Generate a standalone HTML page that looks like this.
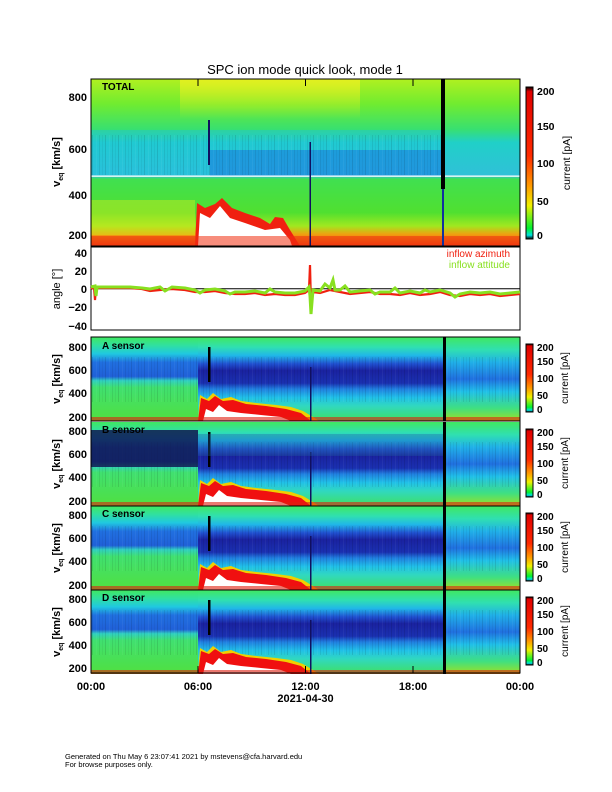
<!DOCTYPE html>
<html><head><meta charset="utf-8"><style>
html,body{margin:0;padding:0;background:#fff}
svg{display:block}
text{font-family:"Liberation Sans",sans-serif}
</style></head><body>
<svg width="612" height="792" viewBox="0 0 612 792" xmlns="http://www.w3.org/2000/svg">
<defs>
<linearGradient id="cb" x1="0" y1="0" x2="0" y2="1">
<stop offset="0" stop-color="#000"/><stop offset="0.03" stop-color="#e00000"/><stop offset="0.45" stop-color="#ff2a00"/><stop offset="0.65" stop-color="#ff9a00"/><stop offset="0.78" stop-color="#f0f000"/><stop offset="0.93" stop-color="#00f030"/><stop offset="0.975" stop-color="#00e0e0"/><stop offset="1" stop-color="#000"/>
</linearGradient>
<linearGradient id="topbase" x1="0" y1="0" x2="0" y2="1">
<stop offset="0" stop-color="#b0f020"/><stop offset="0.15" stop-color="#70ec30"/><stop offset="0.3" stop-color="#38e070"/><stop offset="0.38" stop-color="#20d0c8"/><stop offset="0.58" stop-color="#30c0d8"/><stop offset="0.6" stop-color="#40e050"/><stop offset="0.8" stop-color="#50e030"/><stop offset="0.88" stop-color="#a0e820"/><stop offset="0.93" stop-color="#f0a010"/><stop offset="1" stop-color="#f04010"/>
</linearGradient>
<linearGradient id="yel" x1="0" y1="0" x2="0" y2="1">
<stop offset="0" stop-color="#f0f020" stop-opacity="0.8"/><stop offset="1" stop-color="#f0f020" stop-opacity="0"/>
</linearGradient>
<linearGradient id="sL" x1="0" y1="0" x2="0" y2="1">
<stop offset="0" stop-color="#40e860"/><stop offset="0.1" stop-color="#30e0a0"/><stop offset="0.2" stop-color="#20c8e0"/><stop offset="0.3" stop-color="#2070e0"/><stop offset="0.47" stop-color="#2060d8"/><stop offset="0.52" stop-color="#30d0c0"/><stop offset="0.6" stop-color="#40e070"/><stop offset="1" stop-color="#50e040"/>
</linearGradient>
<linearGradient id="sM" x1="0" y1="0" x2="0" y2="1">
<stop offset="0" stop-color="#40e860"/><stop offset="0.12" stop-color="#30e0b0"/><stop offset="0.22" stop-color="#20b8e8"/><stop offset="0.32" stop-color="#2050d0"/><stop offset="0.4" stop-color="#1a22a0"/><stop offset="0.55" stop-color="#1a30b0"/><stop offset="0.62" stop-color="#2080e0"/><stop offset="0.72" stop-color="#20c0e8"/><stop offset="0.82" stop-color="#30d8c0"/><stop offset="1" stop-color="#40e060"/>
</linearGradient>
<linearGradient id="sR" x1="0" y1="0" x2="0" y2="1">
<stop offset="0" stop-color="#40e860"/><stop offset="0.15" stop-color="#30e0b0"/><stop offset="0.3" stop-color="#20b0e8"/><stop offset="0.5" stop-color="#2070e0"/><stop offset="0.65" stop-color="#20c0e8"/><stop offset="0.85" stop-color="#40e080"/><stop offset="1" stop-color="#a0e020"/>
</linearGradient>
<pattern id="noise" width="13" height="84" patternUnits="userSpaceOnUse">
<rect x="1" y="0" width="1" height="84" fill="#000" opacity="0.35"/>
<rect x="5" y="0" width="1" height="84" fill="#fff" opacity="0.15"/>
<rect x="8" y="0" width="1" height="84" fill="#000" opacity="0.25"/>
<rect x="11" y="0" width="1" height="84" fill="#000" opacity="0.15"/>
</pattern>
<g id="cbar">
<rect x="526" y="0" width="7" height="68" fill="url(#cb)" stroke="#000" stroke-width="1"/>
<g font-size="10" font-weight="bold" fill="#000">
<text x="537" y="7">200</text><text x="537" y="21">150</text><text x="537" y="38">100</text><text x="537" y="55">50</text><text x="537" y="69">0</text>
</g>
<text transform="translate(568,34) rotate(-90)" font-size="10" text-anchor="middle">current [pA]</text>
</g>
<g id="sensor">
<rect x="0" y="0" width="107" height="84" fill="url(#sL)"/>
<rect x="107" y="0" width="245" height="84" fill="url(#sM)"/>
<rect x="352" y="0" width="77" height="84" fill="url(#sR)"/>
<rect x="0" y="20" width="429" height="45" fill="url(#noise)" opacity="0.3"/>
<path d="M107,84 L109,58 L116,62 L122,56 L130,62 L140,60 L150,64 L165,66 L185,68 L200,70 L212,74 L222,80 L228,84 Z" fill="#f0d000"/>
<path d="M107,84 L110,61 L118,64 L124,59 L132,64 L142,63 L155,67 L175,69 L195,72 L210,76 L220,84 Z" fill="#f01010"/>
<path d="M112,84 L115,72 L122,75 L128,68 L136,74 L150,76 L170,78 L190,80 L200,84 Z" fill="#fff"/>
<rect x="0" y="80" width="429" height="4" fill="#e02010" opacity="0.6"/>
<rect x="352" y="0" width="3" height="84" fill="#000"/>
<rect x="219" y="30" width="1.5" height="54" fill="#101060"/>
<rect x="117" y="10" width="2.5" height="35" fill="#000"/>
</g>
</defs>

<text x="305" y="74" font-size="13" text-anchor="middle">SPC ion mode quick look, mode 1</text>

<!-- TOP PANEL -->
<rect x="91" y="79" width="429" height="167" fill="url(#topbase)"/>
<rect x="180" y="79" width="180" height="40" fill="url(#yel)"/>
<rect x="91" y="130" width="352" height="45" fill="#20c0e0" opacity="0.4"/>
<rect x="210" y="150" width="233" height="26" fill="#1a78e0" opacity="0.55"/>
<rect x="91" y="135" width="352" height="40" fill="url(#noise)" opacity="0.3"/>
<rect x="91" y="200" width="104" height="35" fill="#d0e820" opacity="0.45"/>
<path d="M195,246 L197,203 L205,208 L215,204 L222,198 L232,208 L245,213 L260,218 L270,224 L275,217 L283,218 L290,230 L300,246 Z" fill="#f02010"/>
<path d="M198,246 L200,213 L210,218 L220,206 L230,218 L245,223 L265,230 L280,228 L290,240 L292,246 Z" fill="#fff"/>
<rect x="91" y="236" width="429" height="10" fill="#f03010" opacity="0.55"/>
<rect x="91" y="175.5" width="429" height="1.3" fill="#fff"/>
<rect x="441" y="79" width="4" height="110" fill="#000"/>
<rect x="442" y="189" width="2" height="57" fill="#1030a0"/>
<rect x="208" y="120" width="2" height="45" fill="#101060"/>
<rect x="309.5" y="142" width="1.5" height="104" fill="#101060"/>
<rect x="91" y="79" width="429" height="167" fill="none" stroke="#000" stroke-width="1"/>
<text x="102" y="90" font-size="10" font-weight="bold">TOTAL</text>
<g font-size="11" font-weight="bold" text-anchor="end">
<text x="87" y="101">800</text><text x="87" y="153">600</text><text x="87" y="199">400</text><text x="87" y="239">200</text>
</g>
<text transform="translate(60,162) rotate(-90)" font-size="11" font-weight="bold" text-anchor="middle">v<tspan font-size="7" dy="3">eq</tspan><tspan dy="-3"> [km/s]</tspan></text>
<rect x="526" y="87" width="7" height="152" fill="url(#cb)" stroke="#000" stroke-width="1"/>
<g font-size="10.5" font-weight="bold">
<text x="537" y="95">200</text><text x="537" y="130">150</text><text x="537" y="167">100</text><text x="537" y="205">50</text><text x="537" y="239">0</text>
</g>
<text transform="translate(570,163) rotate(-90)" font-size="10.5" text-anchor="middle">current [pA]</text>

<!-- ANGLE PANEL -->
<rect x="91" y="247" width="429" height="83" fill="#fff" stroke="#000" stroke-width="1"/>
<line x1="91" y1="288.7" x2="520" y2="288.7" stroke="#000" stroke-width="1"/>
<polyline fill="none" stroke="#f02010" stroke-width="2.2" points="91,289 94,287 95,300 96,288 105,288 120,288 130,288 142,289 150,291 160,290 172,289 185,290 195,292 205,292 215,291 225,293 235,294 245,294 255,293 265,295 275,294 285,295 295,295 305,293 309,290 310,265 311,305 313,292 320,293 330,290 340,292 350,294 360,293 370,292 380,294 390,294 400,295 410,293 420,295 430,294 440,292 450,295 460,296 470,294 480,295 490,294 500,296 510,295 520,294"/>
<polyline fill="none" stroke="#88e020" stroke-width="3" points="91,287 95,286 96,296 97,287 105,287 120,287 130,287 142,288 150,289 160,287 165,291 172,287 185,288 195,290 200,293 205,290 215,289 225,291 230,294 235,292 245,292 255,291 265,293 270,289 275,292 285,293 295,293 305,291 309,287 310,296 311,314 313,290 320,291 325,284 330,288 333,280 335,290 340,290 345,286 350,292 360,291 370,290 375,294 380,292 390,292 395,288 400,293 410,291 420,293 425,290 430,292 440,290 450,293 455,297 460,294 470,292 480,293 490,292 500,294 510,293 520,292"/>
<text x="510" y="257" font-size="10" fill="#f02010" text-anchor="end">inflow azimuth</text>
<text x="510" y="268" font-size="10" fill="#88e020" text-anchor="end">inflow attitude</text>
<g font-size="11" font-weight="bold" text-anchor="end">
<text x="87" y="257">40</text><text x="87" y="275">20</text><text x="87" y="293">0</text><text x="87" y="311">−20</text><text x="87" y="330">−40</text>
</g>
<text transform="translate(60,289) rotate(-90)" font-size="11" text-anchor="middle">angle [°]</text>

<!-- SENSOR PANELS -->
<g transform="translate(91,337)"><use href="#sensor"/></g>
<g transform="translate(91,422)"><use href="#sensor"/>
<rect x="0" y="8" width="107" height="37" fill="#101850" opacity="0.85"/>
<rect x="107" y="12" width="245" height="22" fill="#2060a0" opacity="0.35"/></g>
<g transform="translate(91,506)"><use href="#sensor"/></g>
<g transform="translate(91,590)"><use href="#sensor"/></g>
<g fill="none" stroke="#000" stroke-width="1">
<rect x="91" y="337" width="429" height="84"/><rect x="91" y="421" width="429" height="85"/><rect x="91" y="506" width="429" height="84"/><rect x="91" y="590" width="429" height="83"/>
</g>
<g font-size="10" font-weight="bold">
<text x="102" y="349">A sensor</text><text x="102" y="433">B sensor</text><text x="102" y="517">C sensor</text><text x="102" y="601">D sensor</text>
</g>
<g font-size="11" font-weight="bold" text-anchor="end">
<text x="87" y="351">800</text><text x="87" y="374">600</text><text x="87" y="397">400</text><text x="87" y="421">200</text>
<text x="87" y="435">800</text><text x="87" y="458">600</text><text x="87" y="481">400</text><text x="87" y="505">200</text>
<text x="87" y="519">800</text><text x="87" y="542">600</text><text x="87" y="565">400</text><text x="87" y="589">200</text>
<text x="87" y="603">800</text><text x="87" y="626">600</text><text x="87" y="649">400</text><text x="87" y="672">200</text>
</g>
<g font-size="11" font-weight="bold" text-anchor="middle">
<text transform="translate(60,379) rotate(-90)">v<tspan font-size="7" dy="3">eq</tspan><tspan dy="-3"> [km/s]</tspan></text>
<text transform="translate(60,464) rotate(-90)">v<tspan font-size="7" dy="3">eq</tspan><tspan dy="-3"> [km/s]</tspan></text>
<text transform="translate(60,548) rotate(-90)">v<tspan font-size="7" dy="3">eq</tspan><tspan dy="-3"> [km/s]</tspan></text>
<text transform="translate(60,632) rotate(-90)">v<tspan font-size="7" dy="3">eq</tspan><tspan dy="-3"> [km/s]</tspan></text>
</g>
<use href="#cbar" transform="translate(0,344)"/>
<use href="#cbar" transform="translate(0,429)"/>
<use href="#cbar" transform="translate(0,513)"/>
<use href="#cbar" transform="translate(0,597)"/>

<!-- x ticks -->
<g stroke="#000" stroke-width="1">
<line x1="198" y1="673" x2="198" y2="666"/><line x1="305.5" y1="673" x2="305.5" y2="666"/><line x1="413" y1="673" x2="413" y2="666"/>
<line x1="198" y1="79" x2="198" y2="86"/><line x1="305.5" y1="79" x2="305.5" y2="86"/><line x1="413" y1="79" x2="413" y2="86"/>
</g>
<g font-size="11" font-weight="bold" text-anchor="middle">
<text x="91" y="690">00:00</text><text x="198" y="690">06:00</text><text x="305.5" y="690">12:00</text><text x="413" y="690">18:00</text><text x="520" y="690">00:00</text>
<text x="305.5" y="702">2021-04-30</text>
</g>
<g font-size="7.5">
<text x="65" y="759">Generated on Thu May  6 23:07:41 2021 by mstevens@cfa.harvard.edu</text>
<text x="65" y="767">For browse purposes only.</text>
</g>
</svg>
</body></html>
